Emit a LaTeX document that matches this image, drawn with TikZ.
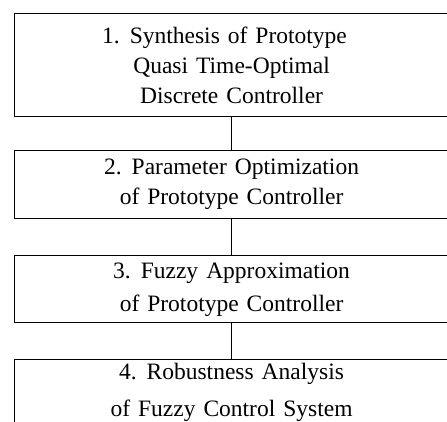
\documentclass[tikz,border=0pt]{standalone}
\usepackage{fontspec}
\setmainfont{Liberation Serif}
\usetikzlibrary{positioning}

\def\stagefont{\fontsize{23.5}{30}\selectfont\spaceskip=8pt plus 2pt\relax}
\tikzset{
    stage/.style={draw, line width=1.1pt, minimum width=434pt, inner sep=0pt,
        align=center, font=\stagefont},
    link/.style={line width=1.1pt}
}

\begin{document}
\begin{tikzpicture}[x=1pt, y=-1pt, node distance=36pt]%
    \useasboundingbox (0,0) rectangle (447,421);
    % the four design stages, one below the other
    \node (st1) [stage, minimum height=103pt, anchor=north west] at (14,13)
        {1. Synthesis of Prototype\hspace{14pt} \\ Quasi Time-Optimal \\ Discrete Controller};
    \node (st2) [stage, minimum height=68pt, below=33pt of st1]
        {2. Parameter Optimization \\ of Prototype Controller};
    \node (st3) [stage, minimum height=67pt, below=of st2]
        {3. Fuzzy Approximation \\[3pt] of Prototype Controller};
    \node (st4) [stage, minimum height=66pt, below=of st3]
        {4. Robustness Analysis \\[7pt] of Fuzzy Control System};
    \foreach \a/\b in {1/2, 2/3, 3/4}{
        \draw [link] (st\a.south) -- (st\b.north);
    }
\end{tikzpicture}
\end{document}
